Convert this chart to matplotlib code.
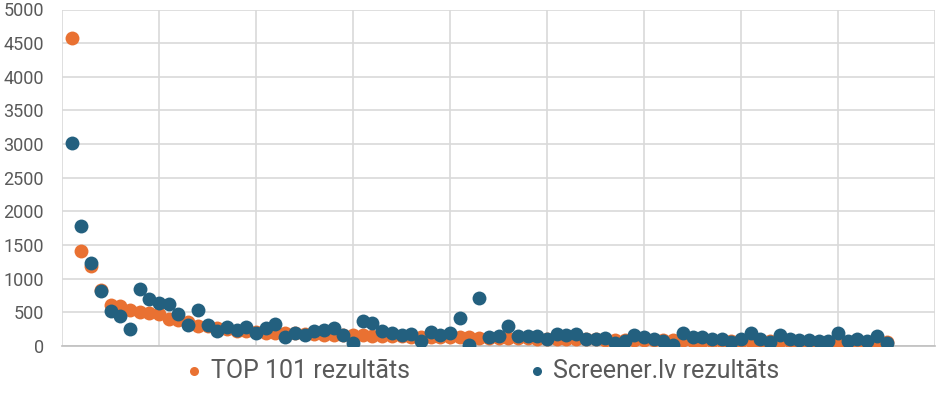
import matplotlib.pyplot as plt
import numpy as np

# TOP 101 rezultāts (orange) and Screener.lv rezultāts (blue), 85 points
top101 = [4570, 1410, 1190, 830, 610, 600, 540, 510, 490, 470,
          400, 380, 360, 290, 300, 270, 250, 230, 220, 210,
          200, 200, 190, 190, 180, 180, 170, 170, 165, 160,
          160, 155, 150, 150, 145, 140, 140, 135, 135, 130,
          130, 130, 125, 125, 120, 120, 115, 115, 110, 110,
          105, 105, 100, 100, 100, 95, 95, 95, 90, 90,
          90, 85, 85, 85, 80, 80, 80, 80, 75, 75,
          75, 70, 70, 70, 70, 65, 65, 65, 60, 60,
          60, 60, 55, 55, 55]
screener = [3010, 1790, 1240, 810, 520, 450, 260, 840, 700, 640,
            630, 470, 310, 530, 310, 230, 280, 240, 280, 200,
            270, 320, 140, 190, 170, 230, 240, 270, 160, 40,
            370, 340, 230, 190, 170, 180, 70, 210, 160, 200,
            420, 10, 720, 130, 150, 290, 150, 150, 150, 100,
            180, 170, 180, 100, 110, 120, 40, 80, 170, 130,
            100, 70, 10, 200, 140, 130, 100, 100, 60, 110,
            200, 100, 60, 170, 100, 90, 90, 80, 80, 190,
            80, 100, 80, 150, 50]
idx = np.arange(1, len(top101) + 1)

orange = '#E97132'
blue = '#23607F'
grid = '#D9D9D9'
txt = '#595959'

fig = plt.figure(figsize=(9.36, 4.07), dpi=100)
ax = fig.add_axes([62/936, 1 - 346/407, 873/936, 336.5/407])

ax.scatter(idx, top101, s=100, color=orange, zorder=3, label='TOP 101 rezultāts', linewidths=0)
ax.scatter(idx, screener, s=100, color=blue, zorder=4, label='Screener.lv rezultāts', linewidths=0)

ax.set_xlim(0, 90)
ax.set_ylim(0, 5000)
ax.set_xticks(np.arange(0, 91, 10))
ax.set_yticks(np.arange(0, 5001, 500))
ax.grid(True, color=grid, linewidth=1.2, zorder=0)
ax.set_axisbelow(True)
ax.tick_params(axis='x', length=0, labelbottom=False)
ax.tick_params(axis='y', length=0, labelsize=13, labelcolor=txt, pad=13)
for lab in ax.get_yticklabels():
    lab.set_family(['Roboto', 'DejaVu Sans'])
for s in ['top', 'right', 'left']:
    ax.spines[s].set_visible(False)
ax.spines['bottom'].set_color('#BFBFBF')
ax.spines['bottom'].set_linewidth(1.2)

leg = fig.legend(loc='center', bbox_to_anchor=(482/936, 1 - 371/407), ncol=2,
                 frameon=False, markerscale=0.65, handletextpad=0.25,
                 columnspacing=4.7, handlelength=0.8,
                 prop={'family': ['Roboto', 'DejaVu Sans'], 'size': 18})
for t in leg.get_texts():
    t.set_color(txt)

fig.savefig('out.png', dpi=100)
